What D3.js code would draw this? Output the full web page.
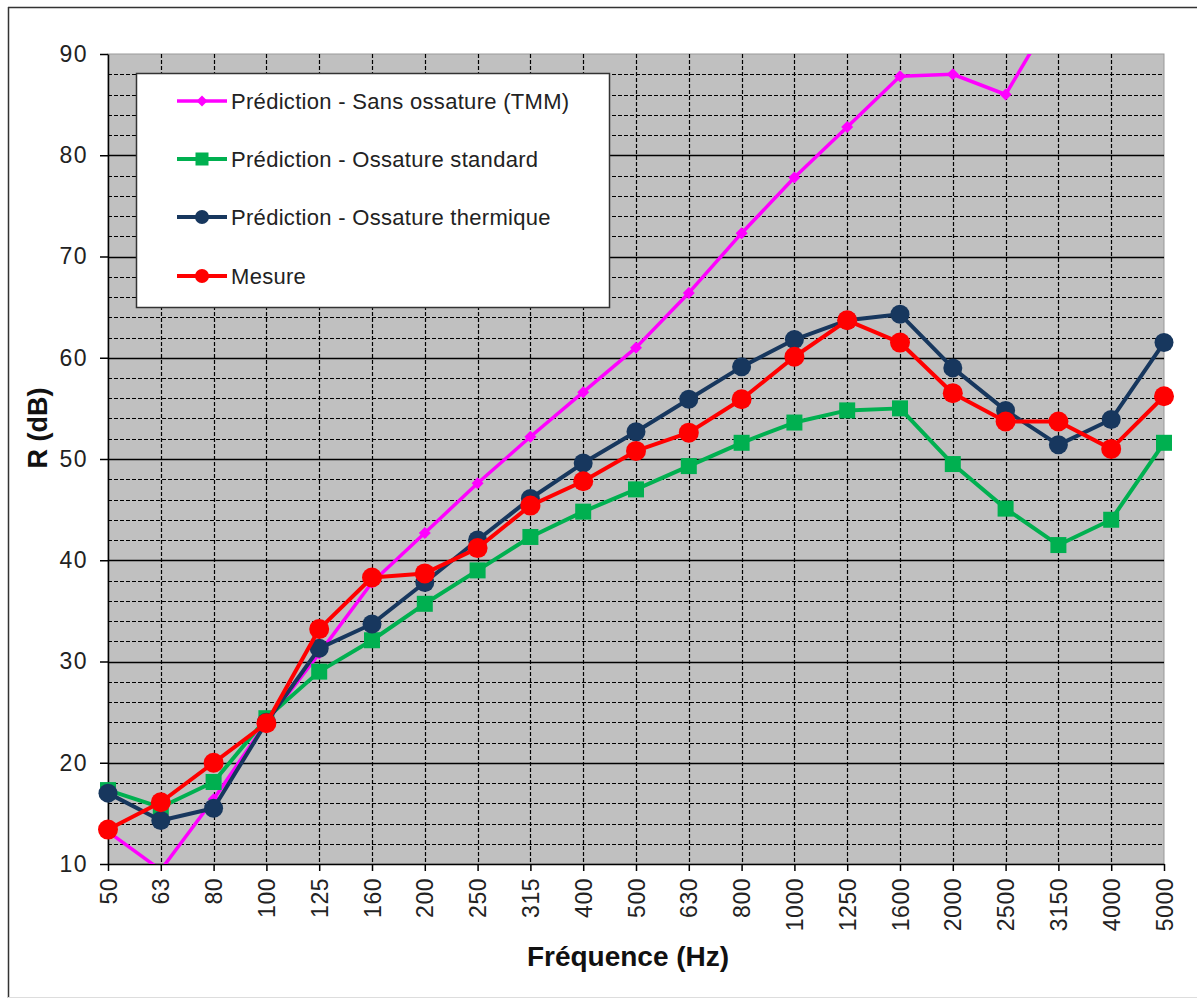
<!DOCTYPE html>
<html>
<head>
<meta charset="utf-8">
<script src="https://cdn.jsdelivr.net/npm/d3@7"></script>
<style>
  body { margin: 0; background: #fff; }
  svg { display: block; font-family: "Liberation Sans", Arial, sans-serif; }
</style>
</head>
<body>
<svg id="chart" width="1197" height="1003"></svg>
<script>
const frequencies = ["50", "63", "80", "100", "125", "160", "200", "250", "315", "400", "500",
  "630", "800", "1000", "1250", "1600", "2000", "2500", "3150", "4000", "5000"];

const sansOssature = [13.2, 9.4, 16.4, 24.0, 30.8, 37.8, 42.7, 47.6, 52.2, 56.6, 61.0,
  66.4, 72.3, 77.8, 82.8, 87.8, 88.0, 86.0, 94.8, 99.0, 103.0];
const ossatureStandard = [17.3, 15.6, 18.1, 24.4, 29.0, 32.1, 35.7, 39.0, 42.3, 44.8, 47.0,
  49.3, 51.6, 53.6, 54.8, 55.0, 49.5, 45.1, 41.5, 44.0, 51.6];
const ossatureThermique = [17.0, 14.3, 15.5, 24.0, 31.3, 33.7, 37.8, 42.0, 46.1, 49.6, 52.7,
  55.9, 59.1, 61.8, 63.7, 64.3, 59.0, 54.8, 51.4, 53.9, 61.5];
const mesure = [13.4, 16.1, 20.0, 23.9, 33.2, 38.3, 38.7, 41.2, 45.4, 47.8, 50.8,
  52.6, 55.9, 60.1, 63.7, 61.5, 56.5, 53.7, 53.7, 51.0, 56.2];

const yTicks = [10, 20, 30, 40, 50, 60, 70, 80, 90];

const seriesList = [
  { name: "Prédiction - Sans ossature (TMM)", values: sansOssature, color: "#ff00ff", width: 3.5, marker: "diamond", size: 12 },
  { name: "Prédiction - Ossature standard", values: ossatureStandard, color: "#00b050", width: 4, marker: "square", size: 16 },
  { name: "Prédiction - Ossature thermique", values: ossatureThermique, color: "#17375e", width: 4, marker: "circle", size: 9.5 },
  { name: "Mesure", values: mesure, color: "#ff0000", width: 4, marker: "circle", size: 10 }
];

const svg = d3.select("#chart");
const plotLeft = 108, plotRight = 1164, plotTop = 54, plotBottom = 864;

const x = d3.scalePoint().domain(frequencies).range([plotLeft, plotRight]).padding(0);
const y = d3.scaleLinear().domain([10, 90]).range([plotBottom, plotTop]);

// outer frame
svg.append("line").attr("x1", 8).attr("x2", 1197).attr("y1", 7.5).attr("y2", 7.5)
  .attr("stroke", "#333").attr("stroke-width", 1.5);
svg.append("line").attr("x1", 8.5).attr("x2", 8.5).attr("y1", 7).attr("y2", 998)
  .attr("stroke", "#333").attr("stroke-width", 1.5);
svg.append("line").attr("x1", 8).attr("x2", 1197).attr("y1", 997.5).attr("y2", 997.5)
  .attr("stroke", "#ddd").attr("stroke-width", 1);

// plot background
svg.append("rect").attr("x", plotLeft).attr("y", plotTop)
  .attr("width", plotRight - plotLeft).attr("height", plotBottom - plotTop)
  .attr("fill", "#c0c0c0").attr("stroke", "#999").attr("stroke-width", 1);

const grid = svg.append("g");
// minor horizontal dashed lines every 2 dB
d3.range(12, 90, 2).filter(v => v % 10 !== 0).forEach(v => {
  grid.append("line").attr("x1", plotLeft).attr("x2", plotRight)
    .attr("y1", Math.round(y(v)) + 0.5).attr("y2", Math.round(y(v)) + 0.5)
    .attr("stroke", "#000").attr("stroke-width", 1.2).attr("stroke-dasharray", "4,2");
});
// vertical dashed lines at each frequency
frequencies.slice(1, -1).forEach(f => {
  grid.append("line").attr("x1", Math.round(x(f)) + 0.5).attr("x2", Math.round(x(f)) + 0.5)
    .attr("y1", plotTop).attr("y2", plotBottom)
    .attr("stroke", "#000").attr("stroke-width", 1.2).attr("stroke-dasharray", "4,2");
});
// major horizontal solid lines
yTicks.slice(1, -1).forEach(v => {
  grid.append("line").attr("x1", plotLeft).attr("x2", plotRight)
    .attr("y1", Math.round(y(v)) + 0.5).attr("y2", Math.round(y(v)) + 0.5)
    .attr("stroke", "#000").attr("stroke-width", 1.3);
});

// axes
const yAxis = svg.append("g").attr("transform", `translate(${plotLeft},0)`)
  .call(d3.axisLeft(y).tickValues(yTicks).tickSize(8).tickPadding(12).tickSizeOuter(0));
yAxis.select(".domain").attr("stroke", "#000").attr("stroke-width", 1.5);
yAxis.selectAll(".tick line").attr("stroke", "#000").attr("stroke-width", 1.5);
yAxis.selectAll(".tick text").attr("font-size", 23).attr("fill", "#222")
  .attr("font-family", "Liberation Sans, Arial, sans-serif").attr("letter-spacing", 1.5);

const xAxis = svg.append("g").attr("transform", `translate(0,${plotBottom})`)
  .call(d3.axisBottom(x).tickSize(7).tickSizeOuter(0));
xAxis.select(".domain").attr("stroke", "#000").attr("stroke-width", 1.5);
xAxis.selectAll(".tick line").attr("stroke", "#000").attr("stroke-width", 1.5);
xAxis.selectAll(".tick text")
  .attr("font-size", 23).attr("fill", "#222")
  .attr("font-family", "Liberation Sans, Arial, sans-serif").attr("letter-spacing", 0.5)
  .attr("transform", "rotate(-90)")
  .attr("x", -14).attr("y", 0).attr("dy", "0.35em")
  .attr("text-anchor", "end");

// axis titles
svg.append("text").attr("transform", `translate(47,428) rotate(-90)`)
  .attr("text-anchor", "middle").attr("font-size", 27).attr("font-weight", "bold")
  .attr("fill", "#111").text("R (dB)");
svg.append("text").attr("x", 628).attr("y", 966)
  .attr("text-anchor", "middle").attr("font-size", 28).attr("font-weight", "bold")
  .attr("fill", "#111").text("Fréquence (Hz)");

// clip for lines
svg.append("clipPath").attr("id", "plotClip").append("rect")
  .attr("x", 0).attr("y", plotTop).attr("width", 1197).attr("height", plotBottom - plotTop);

function drawMarker(g, type, cx, cy, size, color) {
  if (type === "circle") {
    g.append("circle").attr("cx", cx).attr("cy", cy).attr("r", size).attr("fill", color);
  } else if (type === "square") {
    g.append("rect").attr("x", cx - size / 2).attr("y", cy - size / 2)
      .attr("width", size).attr("height", size).attr("fill", color);
  } else {
    const h = size / 2;
    g.append("path").attr("d", `M${cx},${cy - h}L${cx + h},${cy}L${cx},${cy + h}L${cx - h},${cy}Z`)
      .attr("fill", color);
  }
}

const line = d3.line().x((d, i) => x(frequencies[i])).y(d => y(d));

seriesList.forEach(s => {
  const g = svg.append("g");
  g.append("path").datum(s.values)
    .attr("d", line).attr("fill", "none")
    .attr("stroke", s.color).attr("stroke-width", s.width)
    .attr("stroke-linejoin", "round")
    .attr("clip-path", "url(#plotClip)");
  s.values.forEach((v, i) => {
    if (v >= 10 && v <= 90) drawMarker(g, s.marker, x(frequencies[i]), y(v), s.size, s.color);
  });
});

// legend
const legend = svg.append("g");
legend.append("rect").attr("x", 136.5).attr("y", 73.5).attr("width", 473).attr("height", 234)
  .attr("fill", "#fff").attr("stroke", "#333").attr("stroke-width", 1.5);
const rowY = [101, 159, 217, 276];
seriesList.forEach((s, i) => {
  const ly = rowY[i];
  legend.append("line").attr("x1", 177).attr("x2", 227).attr("y1", ly).attr("y2", ly)
    .attr("stroke", s.color).attr("stroke-width", s.width);
  drawMarker(legend, s.marker, 202, ly, s.marker === "circle" ? 7 : (s.marker === "square" ? 13 : 11), s.color);
  legend.append("text").attr("x", 231).attr("y", ly).attr("dy", "0.35em")
    .attr("font-size", 22).attr("fill", "#222").attr("letter-spacing", 0.3)
    .text(s.name);
});
</script>
</body>
</html>
